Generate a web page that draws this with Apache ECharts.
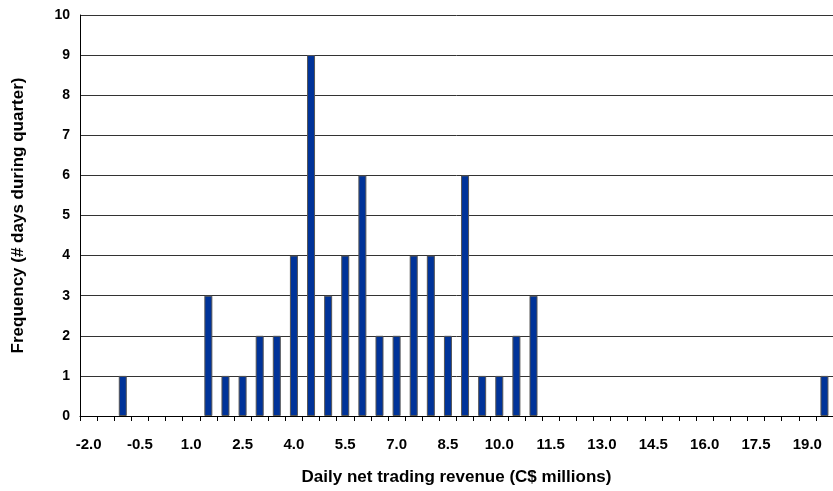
<!DOCTYPE html>
<html>
<head>
<meta charset="utf-8">
<script src="https://cdn.jsdelivr.net/npm/echarts@6/dist/echarts.min.js"></script>
<style>
  html, body { margin: 0; padding: 0; background: #fff; }
  #histogram { width: 833px; height: 491px; }
</style>
</head>
<body>
<div id="histogram"></div>
<script>
// revenue bins, C$ millions
const categories = [
  "-2.0", "-1.5", "-1.0", "-0.5", "0.0", "0.5", "1.0", "1.5", "2.0", "2.5",
  "3.0", "3.5", "4.0", "4.5", "5.0", "5.5", "6.0", "6.5", "7.0", "7.5",
  "8.0", "8.5", "9.0", "9.5", "10.0", "10.5", "11.0", "11.5", "12.0", "12.5",
  "13.0", "13.5", "14.0", "14.5", "15.0", "15.5", "16.0", "16.5", "17.0", "17.5",
  "18.0", "18.5", "19.0", "19.5"
];
// # days per bin
const frequency = [
  0, 0, 1, 0, 0, 0, 0, 3, 1, 1,
  2, 2, 4, 9, 3, 4, 6, 2, 2, 4,
  4, 2, 6, 1, 1, 2, 3, 0, 0, 0,
  0, 0, 0, 0, 0, 0, 0, 0, 0, 0,
  0, 0, 0, 1
];
const yTicks = { min: 0, max: 10, interval: 1 };

const font = "Liberation Sans, Arial, sans-serif";

const chart = echarts.init(document.getElementById("histogram"));
const option = {
  animation: false,
  grid: { left: 80, right: -4, top: 15, bottom: 74 },
  xAxis: {
    type: "category",
    data: categories,
    name: "Daily net trading revenue (C$ millions)",
    nameLocation: "middle",
    nameGap: 53,
    nameTextStyle: { fontFamily: font, fontWeight: "bold", fontSize: 17, color: "#000" },
    axisLine: { lineStyle: { color: "#000", width: 1 } },
    axisTick: { show: true, interval: 0, length: 5, lineStyle: { color: "#000" } },
    axisLabel: {
      interval: 2,
      margin: 21,
      fontFamily: font,
      fontWeight: "bold",
      fontSize: 15,
      color: "#000",
    },
    splitLine: { show: false },
  },
  yAxis: {
    type: "value",
    min: yTicks.min,
    max: yTicks.max,
    interval: yTicks.interval,
    name: "Frequency (# days during quarter)",
    nameLocation: "middle",
    nameGap: 53,
    nameTextStyle: { fontFamily: font, fontWeight: "bold", fontSize: 17, color: "#000" },
    axisLine: { show: true, lineStyle: { color: "#000", width: 1 } },
    axisTick: { show: false },
    axisLabel: {
      margin: 10,
      fontFamily: font,
      fontWeight: "bold",
      fontSize: 14,
      color: "#000",
    },
    splitLine: { show: true, lineStyle: { color: "#333", width: 1 } },
  },
  series: [
    {
      type: "bar",
      // empty bins drawn as nothing, so no border stubs on the axis
      data: frequency.map((v) => (v === 0 ? "-" : v)),
      barWidth: 8,
      itemStyle: {
        color: "#003399",
        borderColor: "#555",
        borderWidth: 1,
      },
    },
  ],
};
chart.setOption(option);
</script>
</body>
</html>
